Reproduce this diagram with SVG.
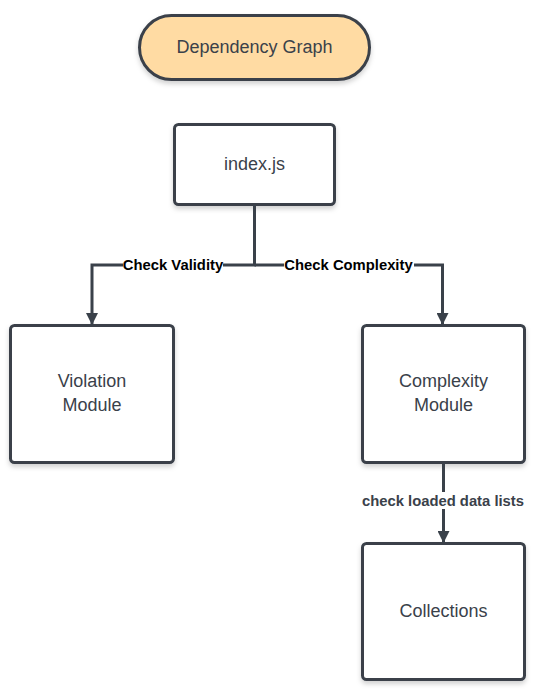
<svg xmlns="http://www.w3.org/2000/svg" width="534" height="693" viewBox="0 0 534 693">
<style>
.box{fill:#ffffff;stroke:#3a414a;stroke-width:3;filter:url(#sh)}
.lbl{font-family:"Liberation Sans",Arial,sans-serif;font-size:18px;fill:#3a414a;text-anchor:middle}
.edge{fill:none;stroke:#3a414a;stroke-width:3}
.el{font-family:"Liberation Sans",Arial,sans-serif;font-size:14.8px;font-weight:bold;text-anchor:middle}
</style>
<defs>
<filter id="sh" x="-10%" y="-10%" width="125%" height="130%">
<feDropShadow dx="0" dy="3" stdDeviation="2.5" flood-color="#000" flood-opacity="0.18"/>
</filter>
<marker id="arr" viewBox="0 0 10 10" refX="10" refY="5" markerWidth="4" markerHeight="4" markerUnits="strokeWidth" orient="auto">
<path d="M0,0 L10,5 L0,10 z" fill="#3a414a"/>
</marker>
</defs>
<g id="title">
<rect class="box" x="139.5" y="15.5" width="230" height="64" rx="32" style="fill:#ffdba3"/>
<text class="lbl" x="254.5" y="53">Dependency Graph</text>
</g>
<g id="index">
<rect class="box" x="174.5" y="124.5" width="160" height="80" rx="4"/>
<text class="lbl" x="254.5" y="170">index.js</text>
</g>
<g id="violation">
<rect class="box" x="10.5" y="325.5" width="163" height="137" rx="4"/>
<text class="lbl" x="92" y="387">Violation</text>
<text class="lbl" x="92" y="411">Module</text>
</g>
<g id="complexity">
<rect class="box" x="362.5" y="325.5" width="162" height="137" rx="4"/>
<text class="lbl" x="443.5" y="387">Complexity</text>
<text class="lbl" x="443.5" y="411">Module</text>
</g>
<g id="collections">
<rect class="box" x="362.5" y="543.5" width="162" height="136" rx="4"/>
<text class="lbl" x="443.5" y="617">Collections</text>
</g>
<g id="connectors">
<path class="edge" d="M254.5,204.5 V265 H92 V325" marker-end="url(#arr)"/>
<path class="edge" d="M254.5,265 H442.5 V325" marker-end="url(#arr)"/>
<path class="edge" d="M443.5,462.5 V543" marker-end="url(#arr)"/>
<rect x="123" y="256" width="100" height="17" fill="#fff"/>
<text class="el" x="173" y="270" fill="#000">Check Validity</text>
<rect x="284" y="256" width="130" height="17" fill="#fff"/>
<text class="el" x="348.5" y="270" fill="#000">Check Complexity</text>
<rect x="360" y="492" width="166" height="17" fill="#fff"/>
<text class="el" x="443" y="505.5" fill="#3a414a">check loaded data lists</text>
</g>
</svg>
